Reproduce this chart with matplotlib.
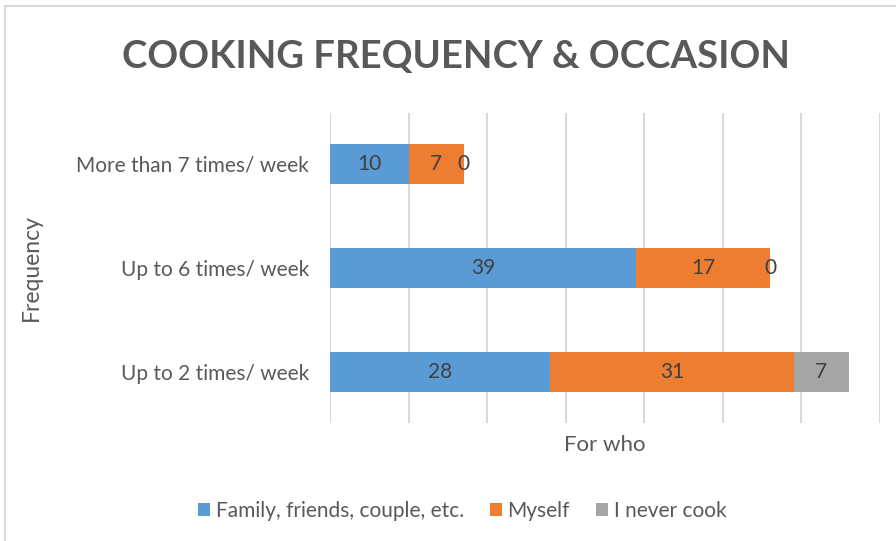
import matplotlib
matplotlib.use("Agg")
import matplotlib.pyplot as plt
from matplotlib.patches import Rectangle
import numpy as np

plt.rcParams['font.family'] = ['Lato', 'DejaVu Sans']

frequencies = ['Up to 2 times/ week', 'Up to 6 times/ week', 'More than 7 times/ week']
series_names = ['Family, friends, couple, etc.', 'Myself', 'I never cook']
family = [28, 39, 10]
myself = [31, 17, 7]
never_cook = [7, 0, 0]
colors = ['#5B9BD5', '#ED7D31', '#A5A5A5']

text_col = '#595959'
grid_col = '#D9D9D9'

fig = plt.figure(figsize=(8.96, 5.41), dpi=100)
ax = fig.add_axes([330 / 896, 1 - 423 / 541, 550 / 896, 310 / 541])

# chart area border
fig.patches.append(Rectangle((5 / 896, -0.1), 1.2, 1 - 6 / 541 + 0.1, transform=fig.transFigure,
                             fill=False, edgecolor=grid_col, linewidth=1.5))

y = np.arange(len(frequencies))
left = np.zeros(len(frequencies))
for vals, name, c in zip([family, myself, never_cook], series_names, colors):
    bars = ax.barh(y, vals, left=left, height=0.39, color=c, label=name, zorder=3)
    ax.bar_label(bars, labels=[str(v) for v in vals], label_type='center',
                 fontsize=15, color='#404040', zorder=4)
    left = left + np.array(vals)

ax.set_xlim(0, 70)
ax.set_ylim(-0.49, 2.49)
ax.set_xticks(np.arange(0, 71, 10))
ax.set_xticklabels([])
ax.set_yticks(y)
ax.set_yticklabels(frequencies, fontsize=15, color=text_col)
ax.tick_params(axis='both', length=0)
ax.tick_params(axis='y', pad=15)
ax.grid(axis='x', color=grid_col, linewidth=1.5, zorder=0)
for s in ax.spines.values():
    s.set_visible(False)

ax.set_xlabel('For who', fontsize=16, color=text_col, labelpad=5)
ax.set_ylabel('Frequency', fontsize=16.5, color=text_col)
ax.yaxis.set_label_coords(-(330 - 42) / 550, 0.5)

fig.text(456 / 896, 1 - 57 / 541, 'COOKING FREQUENCY & OCCASION', ha='center', va='center',
         fontsize=27.5, fontweight='bold', color=text_col)

fig.legend(loc='center', bbox_to_anchor=(462 / 896, 1 - 511 / 541), ncol=3, frameon=False,
           fontsize=15, labelcolor=text_col, handlelength=0.6, handleheight=0.6,
           handletextpad=0.25, columnspacing=1.25)

fig.savefig('out.png', dpi=100)
